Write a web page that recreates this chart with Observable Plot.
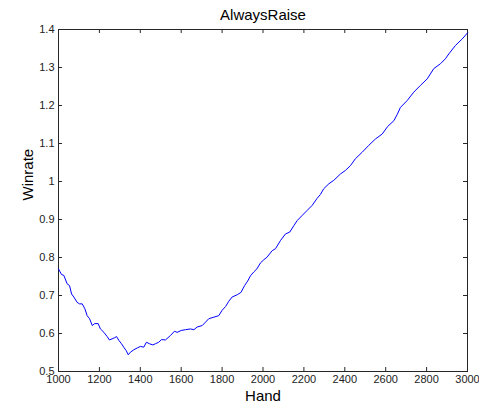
<!DOCTYPE html>
<html>
<head>
<meta charset="utf-8">
<script src="https://cdn.jsdelivr.net/npm/d3@7"></script>
<script src="https://cdn.jsdelivr.net/npm/@observablehq/plot@0.6"></script>
<style>
  html, body { margin: 0; padding: 0; background: #fff; }
  svg { display: block; }
</style>
</head>
<body>
<div id="chart"></div>
<script>
const title = "AlwaysRaise";
const xLabel = "Hand";
const yLabel = "Winrate";

const hands = [1000,1015,1026,1042,1054,1064,1075,1091,1103,1116,1129,1140,1152,1165,1177,1194,1205,1222,1238,1249,1262,1275,1284,1295,1308,1319,1331,1341,1352,1368,1385,1401,1417,1430,1445,1461,1474,1490,1504,1523,1548,1567,1580,1600,1621,1645,1662,1678,1703,1719,1735,1760,1784,1800,1817,1833,1849,1874,1892,1910,1925,1939,1955,1970,1988,2004,2020,2045,2061,2086,2110,2131,2151,2167,2192,2216,2240,2265,2281,2297,2322,2346,2379,2403,2428,2452,2485,2517,2550,2583,2610,2640,2656,2672,2705,2737,2770,2803,2835,2868,2892,2909,2941,2974,3000];
const winrate = [0.770,0.755,0.753,0.731,0.726,0.704,0.696,0.682,0.678,0.678,0.665,0.647,0.639,0.621,0.626,0.626,0.612,0.603,0.592,0.583,0.586,0.589,0.592,0.582,0.573,0.564,0.555,0.544,0.551,0.557,0.562,0.566,0.564,0.577,0.573,0.570,0.573,0.577,0.584,0.583,0.595,0.606,0.603,0.608,0.610,0.612,0.610,0.617,0.621,0.630,0.639,0.643,0.647,0.661,0.671,0.685,0.696,0.702,0.708,0.726,0.738,0.752,0.762,0.770,0.786,0.794,0.801,0.818,0.823,0.845,0.862,0.867,0.884,0.897,0.911,0.924,0.937,0.956,0.966,0.981,0.994,1.003,1.020,1.029,1.042,1.060,1.077,1.095,1.112,1.125,1.145,1.160,1.176,1.195,1.213,1.235,1.253,1.270,1.297,1.310,1.323,1.336,1.358,1.375,1.391];

const xTicks = [1000,1200,1400,1600,1800,2000,2200,2400,2600,2800,3000];
const xTickLabels = ["1000","1200","1400","1600","1800","2000","2200","2400","2600","2800","3000"];
const yTicks = [0.5,0.6,0.7,0.8,0.9,1.0,1.1,1.2,1.3,1.4];
const yTickLabels = ["0.5","0.6","0.7","0.8","0.9","1","1.1","1.2","1.3","1.4"];

const data = hands.map((h, i) => ({hand: h, winrate: winrate[i]}));

const W = 479, H = 406;
const mL = 58, mR = 12, mT = 29, mB = 35;
const frameW = W - mL - mR, frameH = H - mT - mB;
const tickLen = 4;
const font = "Liberation Sans, Arial, Helvetica, sans-serif";
const axisColor = "#262626";

const chart = Plot.plot({
  width: W,
  height: H,
  marginLeft: mL,
  marginRight: mR,
  marginTop: mT,
  marginBottom: mB,
  style: {fontFamily: font, background: "#fff", color: "#000"},
  x: {domain: [1000, 3000], axis: null},
  y: {domain: [0.5, 1.4], axis: null},
  marks: [
    Plot.frame({stroke: axisColor, strokeWidth: 1}),
    // inward ticks, bottom & top
    Plot.tickX(xTicks, {x: d => d, insetTop: frameH - tickLen, stroke: axisColor}),
    Plot.tickX(xTicks, {x: d => d, insetBottom: frameH - tickLen, stroke: axisColor}),
    // inward ticks, left & right
    Plot.tickY(yTicks, {y: d => d, insetRight: frameW - tickLen, stroke: axisColor}),
    Plot.tickY(yTicks, {y: d => d, insetLeft: frameW - tickLen, stroke: axisColor}),
    // tick labels
    Plot.text(xTicks, {x: d => d, text: (d, i) => xTickLabels[i], frameAnchor: "bottom", dy: 8, lineAnchor: "middle", fontSize: 11, fill: "#222"}),
    Plot.text(yTicks, {y: d => d, text: (d, i) => yTickLabels[i], frameAnchor: "left", dx: -4, textAnchor: "end", lineAnchor: "middle", fontSize: 11, fill: "#222"}),
    // data line
    Plot.line(data, {x: "hand", y: "winrate", stroke: "#0000ff", strokeWidth: 1}),
    // title and axis labels
    Plot.text([title], {text: d => d, frameAnchor: "top", dy: -14, lineAnchor: "middle", fontSize: 15, fill: "#000"}),
    Plot.text([xLabel], {text: d => d, frameAnchor: "bottom", dy: 25, lineAnchor: "middle", fontSize: 15, fill: "#000"}),
    Plot.text([yLabel], {text: d => d, frameAnchor: "left", dx: -30, rotate: -90, lineAnchor: "middle", fontSize: 15, fill: "#000"})
  ]
});

document.getElementById("chart").appendChild(chart);
</script>
</body>
</html>
